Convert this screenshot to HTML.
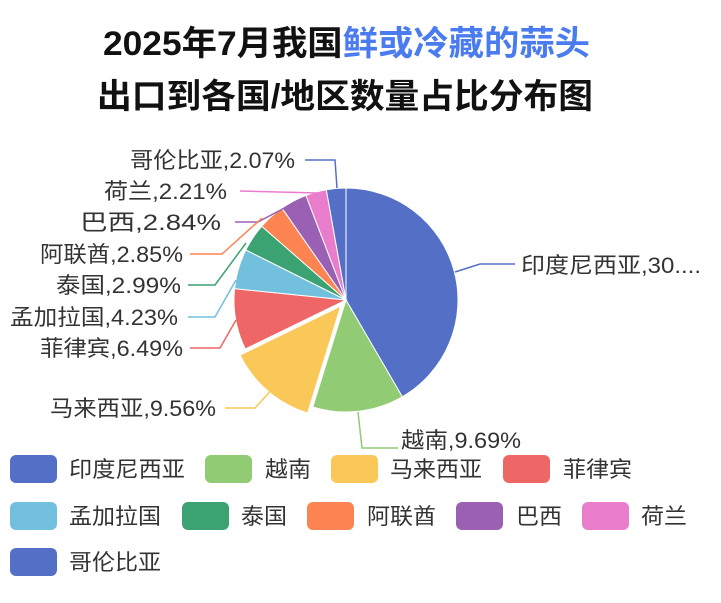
<!DOCTYPE html>
<html><head><meta charset="utf-8"><style>
html,body{margin:0;padding:0;background:#fff;width:721px;height:603px;overflow:hidden}
svg text{font-family:"Liberation Sans","Noto Sans CJK SC",sans-serif}
</style></head><body>
<svg id="s" width="721" height="603" xmlns="http://www.w3.org/2000/svg">
<text x="103" y="55" font-size="34" font-weight="bold" fill="#111" textLength="487" lengthAdjust="spacingAndGlyphs">2025年7月我国<tspan fill="#4a7cf0">鲜或冷藏的蒜头</tspan></text>
<text x="97" y="108" font-size="34" font-weight="bold" fill="#111" textLength="496" lengthAdjust="spacingAndGlyphs">出口到各国/地区数量占比分布图</text>
<g id="pie"></g>
<g fill="none" stroke-width="1.5">
<polyline points="305,160 335,160 337,188" stroke="#5470c6"/>
<polyline points="240,191 318,193" stroke="#ea7ccc"/>
<polyline points="235,222 258,222 290,205" stroke="#9a60b4"/>
<polyline points="190,254 222,254 262,218" stroke="#fc8452"/>
<polyline points="188,285 215,285 246,243" stroke="#3ba272"/>
<polyline points="188,317 215,317 236,280" stroke="#73c0de"/>
<polyline points="190,348 220,348 236,320" stroke="#ee6666"/>
<polyline points="225,408 255,408 276,385" stroke="#fac858"/>
<polyline points="358,412 362,448 398,448" stroke="#91cc75"/>
<polyline points="455,272 480,264 515,264" stroke="#5470c6"/>
</g>
<g font-size="22" fill="#333" lengthAdjust="spacingAndGlyphs">
<text x="130" y="168" textLength="165" lengthAdjust="spacingAndGlyphs">哥伦比亚,2.07%</text>
<text x="104" y="199" textLength="123" lengthAdjust="spacingAndGlyphs">荷兰,2.21%</text>
<text x="80" y="230" textLength="141" lengthAdjust="spacingAndGlyphs">巴西,2.84%</text>
<text x="40" y="262" textLength="143" lengthAdjust="spacingAndGlyphs">阿联酋,2.85%</text>
<text x="56" y="293" textLength="125" lengthAdjust="spacingAndGlyphs">泰国,2.99%</text>
<text x="10" y="325" textLength="168" lengthAdjust="spacingAndGlyphs">孟加拉国,4.23%</text>
<text x="40" y="356" textLength="143" lengthAdjust="spacingAndGlyphs">菲律宾,6.49%</text>
<text x="50" y="416" textLength="166" lengthAdjust="spacingAndGlyphs">马来西亚,9.56%</text>
<text x="401" y="448" textLength="120" lengthAdjust="spacingAndGlyphs">越南,9.69%</text>
<text x="521" y="273" textLength="180" lengthAdjust="spacingAndGlyphs">印度尼西亚,30....</text>
</g>
<g font-size="22" fill="#333">
<rect x="10" y="455" width="47" height="28" rx="6" fill="#5470c6"/><text x="69" y="477" textLength="116" lengthAdjust="spacingAndGlyphs">印度尼西亚</text>
<rect x="205" y="455" width="47" height="28" rx="6" fill="#91cc75"/><text x="265" y="477" textLength="46" lengthAdjust="spacingAndGlyphs">越南</text>
<rect x="331" y="455" width="47" height="28" rx="6" fill="#fac858"/><text x="390" y="477" textLength="92" lengthAdjust="spacingAndGlyphs">马来西亚</text>
<rect x="503" y="455" width="47" height="28" rx="6" fill="#ee6666"/><text x="563" y="477" textLength="69" lengthAdjust="spacingAndGlyphs">菲律宾</text>
<rect x="10" y="502" width="47" height="28" rx="6" fill="#73c0de"/><text x="69" y="524" textLength="92" lengthAdjust="spacingAndGlyphs">孟加拉国</text>
<rect x="182" y="502" width="47" height="28" rx="6" fill="#3ba272"/><text x="241" y="524" textLength="46" lengthAdjust="spacingAndGlyphs">泰国</text>
<rect x="307" y="502" width="47" height="28" rx="6" fill="#fc8452"/><text x="367" y="524" textLength="69" lengthAdjust="spacingAndGlyphs">阿联酋</text>
<rect x="456" y="502" width="47" height="28" rx="6" fill="#9a60b4"/><text x="516" y="524" textLength="46" lengthAdjust="spacingAndGlyphs">巴西</text>
<rect x="582" y="502" width="47" height="28" rx="6" fill="#ea7ccc"/><text x="641" y="524" textLength="46" lengthAdjust="spacingAndGlyphs">荷兰</text>
<rect x="10" y="548" width="47" height="28" rx="6" fill="#5470c6"/><text x="69" y="570" textLength="92" lengthAdjust="spacingAndGlyphs">哥伦比亚</text>
</g>
</svg>
<script>
var d=[[30.6,"#5470c6"],[9.69,"#91cc75"],[9.56,"#fac858"],[6.49,"#ee6666"],[4.23,"#73c0de"],[2.99,"#3ba272"],[2.85,"#fc8452"],[2.84,"#9a60b4"],[2.21,"#ea7ccc"],[2.07,"#5470c6"]];
var t=0;d.forEach(function(x){t+=x[0]});
var cx=346,cy=300,r=112,a=0,h="";
d.forEach(function(x,i){
 var s=a,e=a+x[0]/t*2*Math.PI;a=e;
 var ox=0,oy=0;
 if(i==2){var m=(s+e)/2;ox=8*Math.sin(m);oy=-8*Math.cos(m);}
 var X=cx+ox,Y=cy+oy;
 var x1=X+r*Math.sin(s),y1=Y-r*Math.cos(s),x2=X+r*Math.sin(e),y2=Y-r*Math.cos(e);
 h+='<path d="M'+X+','+Y+'L'+x1+','+y1+'A'+r+','+r+' 0 '+((e-s)>Math.PI?1:0)+' 1 '+x2+','+y2+'Z" fill="'+x[1]+'" stroke="#fff" stroke-width="1"/>';
});
document.getElementById("pie").innerHTML=h;
</script>
</body></html>
